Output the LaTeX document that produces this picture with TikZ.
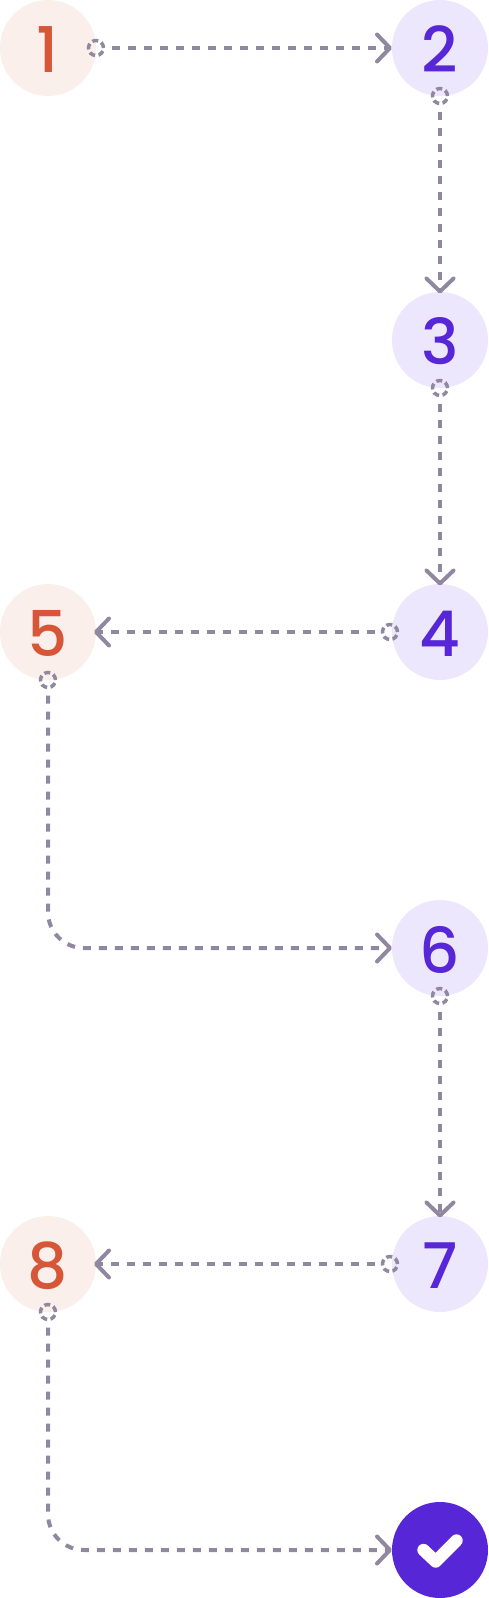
\documentclass[tikz,border=0pt]{standalone}
\usepackage{fontspec}
\setmainfont{Poppins Medium}
\usetikzlibrary{arrows.meta}
\definecolor{ember}{RGB}{214,86,55}
\definecolor{emberpale}{RGB}{250,239,235}
\definecolor{violet}{RGB}{87,38,214}
\definecolor{violetpale}{RGB}{236,231,252}
\definecolor{slate}{RGB}{143,136,159}
\tikzset{
  numdot/.style={circle,inner sep=0pt,outer sep=0pt,minimum size=96pt},
  numtext/.style={font=\fontsize{63}{63}\selectfont,inner sep=0pt,yshift=-1.5pt},
  ring/.style={circle,draw=slate,line width=3.5pt,inner sep=0pt,outer sep=0pt,minimum size=15pt,dash pattern=on 6pt off 3.42pt},
  link/.style={draw=slate,line width=4pt,dash pattern=on 8pt off 8pt,dash phase=8pt,rounded corners=36pt,
    -{Straight Barb[length=13pt,width=27pt,line width=4pt,round]}}
}
\begin{document}
\begin{tikzpicture}[x=1pt,y=-1pt]
        \useasboundingbox (0,0) rectangle (488,1598);
        \foreach \n/\c/\px/\py in {1/ember/48/48,2/violet/440/48,3/violet/440/340,4/violet/440/632,5/ember/48/632,6/violet/440/948,7/violet/440/1264,8/ember/48/1264}{
          \node[numdot,fill=\c pale] (n\n) at (\px,\py) {};
          \node[numtext,text=\c] (t\n) at (\px,\py) {\n};
        }
        \node[numdot,fill=violet] (done) at (440,1550) {};
        % start marks
        \node[ring] (r1) at (n1.east) {};
        \foreach \n in {2,3,6}{
          \node[ring] (r\n) at (n\n.south) {};
        }
        \foreach \n in {4,7}{
          \node[ring] (r\n) at ([xshift=-2pt]n\n.west) {};
        }
        \foreach \n in {5,8}{
          \node[ring] (r\n) at (n\n.south) {};
        }
        % connectors
        \draw[link] (r1) -- (n2);
        \draw[link,shorten >=-1.5pt] (r2) -- (n3);
        \draw[link,shorten >=-1.5pt] (r3) -- (n4);
        \draw[link,shorten >=-2pt] (r4) -- (n5);
        \draw[link] (r5) |- (n6);
        \draw[link,shorten >=-1.5pt] (r6) -- (n7);
        \draw[link,shorten >=-2pt] (r7) -- (n8);
        \draw[link] (r8) |- (done);
        % tick
        \draw[white,line width=12.4pt,line cap=round,line join=round] ([shift={(-16.5,0)}]done.center) -- ([shift={(-4.3,11.5)}]done.center) -- ([shift={(16.5,-9.5)}]done.center);
      \end{tikzpicture}
\end{document}
